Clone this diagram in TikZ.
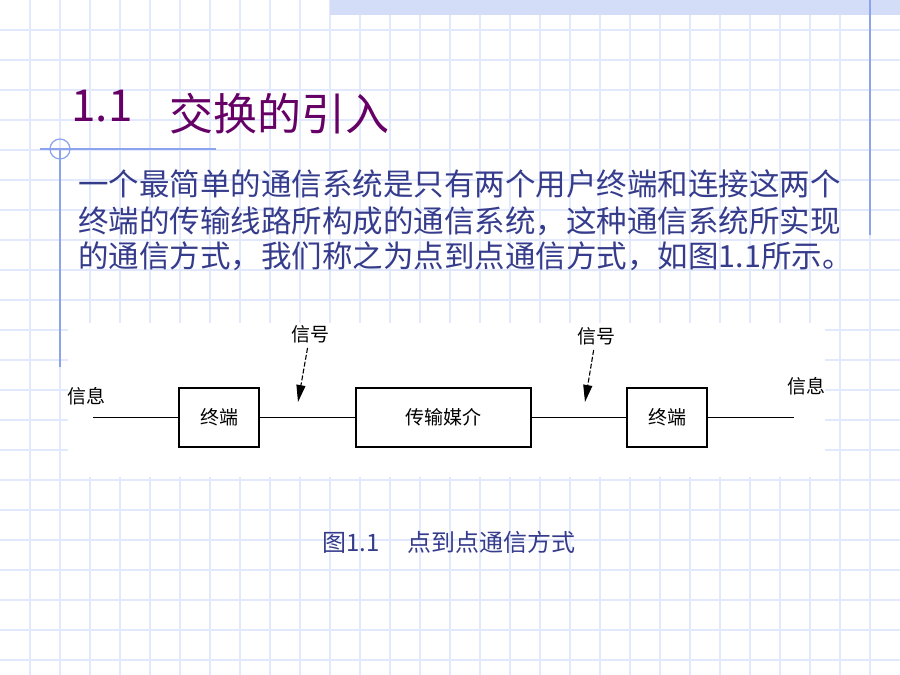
\documentclass[tikz,border=0pt]{standalone}
\usepackage{fontspec}
\setmainfont{Noto Sans CJK SC}
\usetikzlibrary{arrows.meta}

\definecolor{gridblue}{HTML}{E2E9FC}
\definecolor{lineblue}{HTML}{8CA4EE}
\definecolor{bandblue}{HTML}{D3DDF8}
\definecolor{titlepurple}{HTML}{660066}
\definecolor{textblue}{HTML}{363C8C}

\tikzset{
  wire/.style={line width=1.3pt},
  sigarrow/.style={line width=1.1pt,dash pattern=on 5pt off 2pt,shorten <=4pt,
    arrows={-Triangle[length=17pt,width=9pt]}},
  body/.style={anchor=west,inner sep=0pt,text=textblue,font=\fontsize{30.5}{34}\selectfont}
}

\begin{document}
\begin{tikzpicture}[x=1pt,y=-1pt]

        \useasboundingbox (0,0) rectangle (900,675);
        \fill[white] (0,0) rectangle (900,675);

        % grid paper
        \foreach \i in {1,...,29} \draw[gridblue,line width=1.6pt] (\i*30,0) -- (\i*30,675);
        \foreach \j in {1,...,22} \draw[gridblue,line width=1.6pt] (0,\j*30) -- (900,\j*30);
        \fill[bandblue] (330,0) rectangle (900,15);
        \fill[white] (68,323) rectangle (825,477);

        % slide rules
        \draw[lineblue,line width=1.3pt] (870,0) -- (870,235);
        \draw[lineblue,line width=1.6pt] (40,149) -- (216,149);
        \draw[lineblue,line width=1.6pt] (60,149) -- (60,367);
        \draw[lineblue,line width=1.2pt] (60,149) circle[radius=10];

        \begin{scope}[every node/.style={text=titlepurple,inner sep=0pt,font=\fontsize{44}{50}\selectfont}]
          \node (num)   at (102,106) {1.1};
          \node (title) at (279,114) {交换的引入};
        \end{scope}

        \node[body] (l1) at (78,184) {一个最简单的通信系统是只有两个用户终端和连接这两个};
        \node[body] (l2) at (78,221) {终端的传输线路所构成的通信系统，这种通信系统所实现};
        \node[body] (l3) at (78,256) {的通信方式，我们称之为点到点通信方式，如图1.1所示。};

        \begin{scope}[every node/.style={draw,line width=1.3pt,minimum height=59pt,
            inner sep=0pt,font=\fontsize{19}{22}\selectfont}]
          \node[minimum width=80pt]  (t1)  at (219,417.5) {终端};
          \node[minimum width=175pt] (med) at (443.5,417.5) {传输媒介};
          \node[minimum width=80pt]  (t2)  at (667,417.5) {终端};
        \end{scope}

        \begin{scope}[every node/.style={inner sep=1pt,font=\fontsize{19}{22}\selectfont}]
          \node (i1) at (86,396) {信息};
          \node (i2) at (806,386) {信息};
          \node (s1) at (310,334) {信号};
          \node (s2) at (596,336) {信号};
        \end{scope}

        \coordinate (in)   at (93,417.5);
        \coordinate (out)  at (794,417.5);
        \coordinate (tip1) at (298,402);
        \coordinate (tip2) at (585,402);

        \draw[wire] (in) -- (t1);
        \draw[wire] (t1) -- (med);
        \draw[wire] (med) -- (t2);
        \draw[wire] (t2) -- (out);

        \draw[sigarrow] (s1) -- (tip1);
        \draw[sigarrow] (s2) -- (tip2);

        \node[text=textblue,font=\fontsize{24}{28}\selectfont] (cap) at (449,542) {图1.1\hspace{28pt}点到点通信方式};

\end{tikzpicture}
\end{document}
